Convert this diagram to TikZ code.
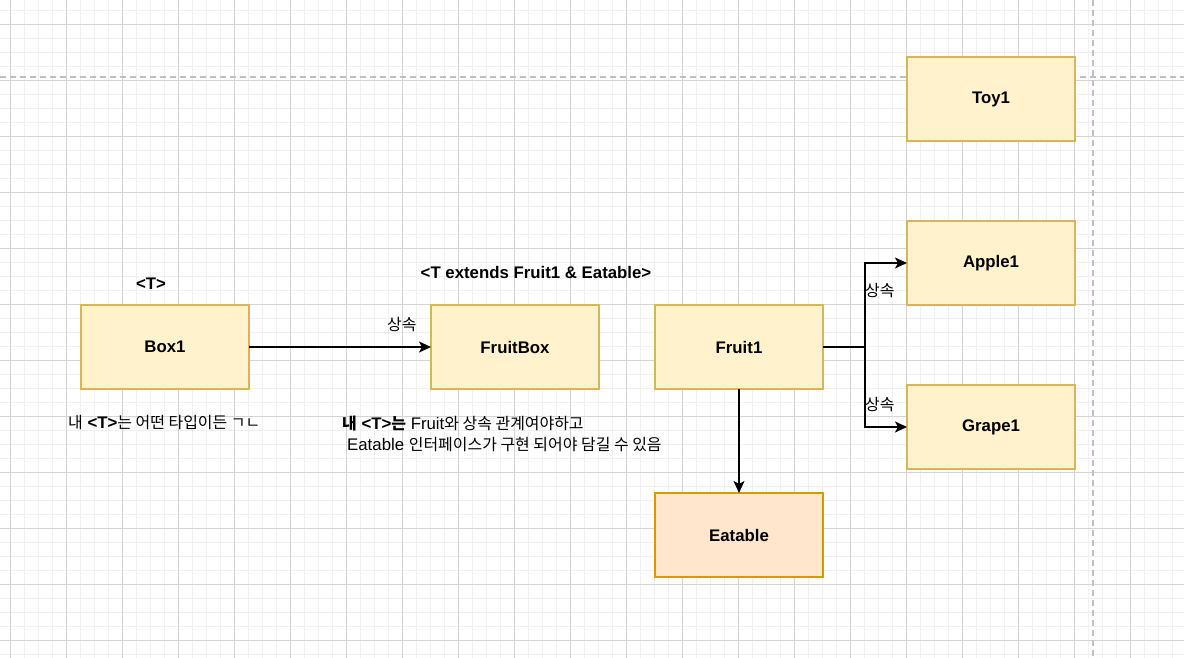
\documentclass[tikz,border=0pt]{standalone}
\usepackage{fontspec}
\setmainfont{Liberation Sans}
\newfontfamily\kr[Scale=0.95]{Noto Sans CJK KR}
\usetikzlibrary{arrows.meta,positioning}
\usepackage{color}
\definecolor{boxfill}{HTML}{FFF2CC}
\definecolor{boxline}{HTML}{D6B656}
\definecolor{ifacefill}{HTML}{FFE6CC}
\definecolor{ifaceline}{HTML}{D79B00}
\definecolor{gridminor}{HTML}{F0F0F0}
\definecolor{gridmajor}{HTML}{D4D4D4}
\definecolor{pageline}{HTML}{C0C0C0}

\begin{document}
\begin{tikzpicture}[x=1pt,y=-1pt,
  font=\fontsize{16.8}{21}\selectfont,
  classbox/.style={rectangle,draw=boxline,fill=boxfill,line width=1.4pt,outer sep=0pt,
    minimum width=168pt,minimum height=84pt,font=\fontsize{16.8}{21}\selectfont\bfseries},
  ifacebox/.style={classbox,draw=ifaceline,fill=ifacefill},
  note/.style={inner sep=0pt}]
\useasboundingbox (0,0) rectangle (1184,658);
\fill[white] (0,0) rectangle (1184,658);

% grid
\foreach \i in {0,...,83} \draw[gridminor,line width=0.8pt] ({10.7+14*\i},0) -- ({10.7+14*\i},658);
\foreach \j in {-1,...,45} \draw[gridminor,line width=0.8pt] (0,{24.3+14*\j}) -- (1184,{24.3+14*\j});
\foreach \i in {0,...,20} \draw[gridmajor,line width=0.8pt] ({10.7+56*\i},0) -- ({10.7+56*\i},658);
\foreach \j in {0,...,11} \draw[gridmajor,line width=0.8pt] (0,{24.3+56*\j}) -- (1184,{24.3+56*\j});
\draw[pageline,line width=1.5pt,dash pattern=on 6pt off 4pt] (0,77) -- (1184,77);
\draw[pageline,line width=1.5pt,dash pattern=on 6pt off 4pt] (1093,0) -- (1093,658);

\begin{scope}[every node/.style={classbox}]
\node [classbox] (Box1) at (165,347) {Box1};
\node [classbox] (FruitBox) [right=182pt of Box1] {FruitBox};
\node [classbox] (Fruit1) [right=56pt of FruitBox] {Fruit1};
\node [ifacebox] (Eatable) [below=104pt of Fruit1] {Eatable};
\node [classbox] (Apple1) at (991,263) {Apple1};
\node [classbox] (Grape1) [below=80pt of Apple1] {Grape1};
\node [classbox] (Toy1) [above=80pt of Apple1] {Toy1};
\end{scope}

\node [note, font=\fontsize{16.8}{21}\selectfont\bfseries] (boxParam) at (151,284) {<T>};
\node [note, font=\fontsize{16.8}{21}\selectfont\bfseries] (fruitBoxParam) at (536,272) {<T extends Fruit1 \& Eatable>};
\node [note, anchor=west] (boxNote) at (68,423) {{\kr 내} \textbf{<T>}{\kr 는 어떤 타입이든 ㄱㄴ}};
\node [note, anchor=west, align=left] (fruitBoxNote) at (342,434) {{\kr\bfseries 내} \textbf{<T>}{\kr\bfseries 는} Fruit{\kr 와 상속 관계여야하고}\\
\hspace{5pt}Eatable {\kr 인터페이스가 구현 되어야 담길 수 있음}};

\begin{scope}[>={Stealth[black,length=12pt,width=11pt,inset=3pt]}]

\draw [->, line width=1.6pt] (Box1) -- node [note, pos=0.84, yshift=22pt] (extFruitBox) {\kr 상속} (FruitBox);
\draw [->, line width=1.6pt] (Fruit1.east) -- ++(42,0) |- (Apple1.west);
\draw [->, line width=1.6pt] (Fruit1.east) -- ++(42,0) |- (Grape1.west);
\draw [->, line width=1.6pt] (Fruit1) -- (Eatable);

\end{scope}

\node [note, anchor=west] (extApple) at (865,291) {\kr 상속};
\node [note, anchor=west] (extGrape) at (865,405) {\kr 상속};
\end{tikzpicture}
\end{document}
